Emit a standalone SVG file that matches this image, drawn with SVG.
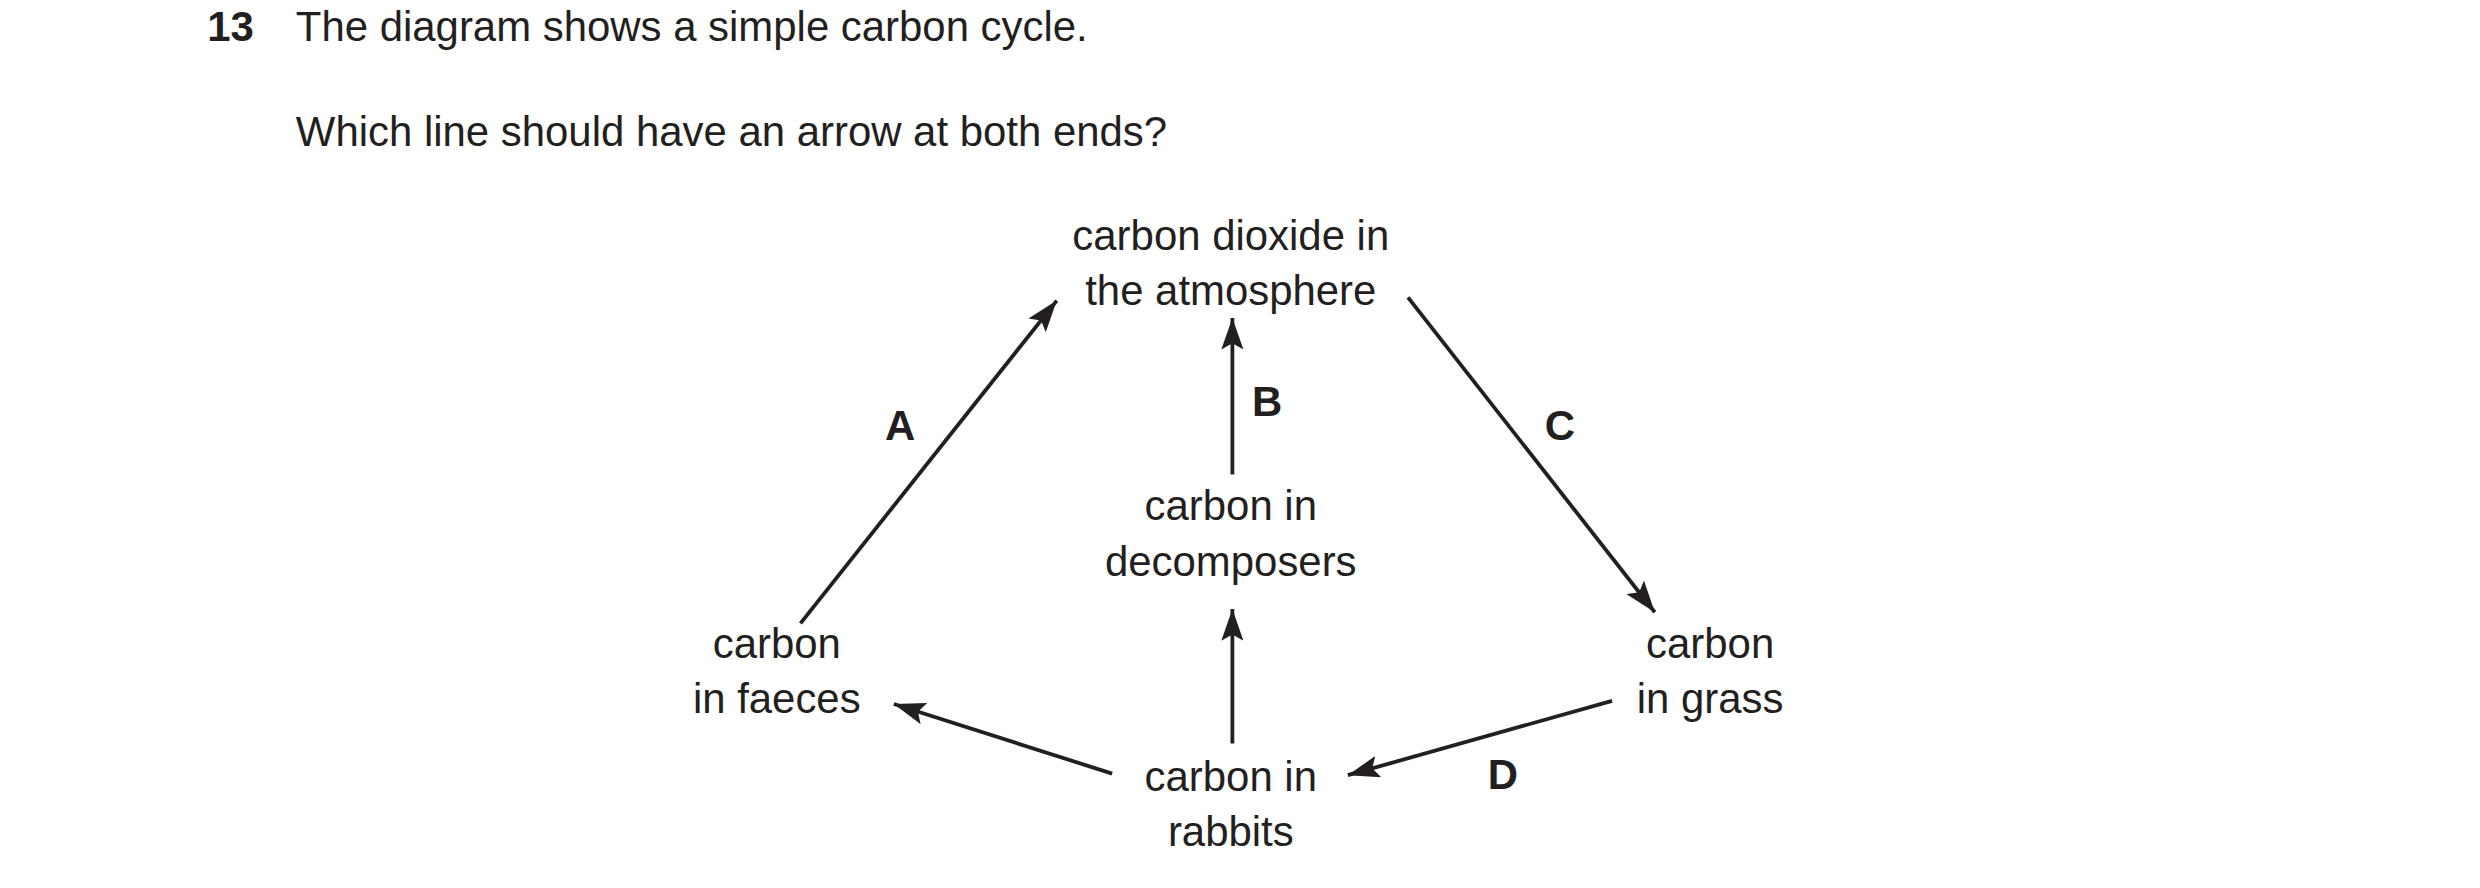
<svg xmlns="http://www.w3.org/2000/svg" width="2480" height="888" viewBox="0 0 2480 888">
<defs>
<marker id="ah" viewBox="0 0 20 14" refX="20" refY="7" markerWidth="20" markerHeight="14" markerUnits="userSpaceOnUse" orient="auto"><path d="M0,0 L20,7 L0,14 L4,7 Z" fill="#231f20"/></marker>
<style>
text{font-family:"Liberation Sans",Arial,sans-serif;font-size:26.5px;fill:#231f20}
.c{text-anchor:middle}
.b{font-weight:bold}
line{stroke:#231f20;stroke-width:2.4;marker-end:url(#ah)}
</style>
</defs>
<rect width="2480" height="888" fill="#fff"/>
<g transform="scale(1.582)">
<g id="question">
<text x="131" y="26" class="b">13</text>
<text x="187" y="26">The diagram shows a simple carbon cycle.</text>
<text x="187" y="92">Which line should have an arrow at both ends?</text>
</g>
<g id="atmosphere"><text class="c" x="778" y="158">carbon dioxide in</text><text class="c" x="778" y="193">the atmosphere</text></g>
<g id="decomposers"><text class="c" x="778" y="329">carbon in</text><text class="c" x="778" y="364">decomposers</text></g>
<g id="faeces"><text class="c" x="491" y="416">carbon</text><text class="c" x="491" y="451">in faeces</text></g>
<g id="grass"><text class="c" x="1081" y="416">carbon</text><text class="c" x="1081" y="451">in grass</text></g>
<g id="rabbits"><text class="c" x="778" y="500">carbon in</text><text class="c" x="778" y="535">rabbits</text></g>
<g id="connectors">
<line x1="506" y1="394" x2="668" y2="190"/>
<line x1="779" y1="300" x2="779" y2="201"/>
<line x1="890" y1="188" x2="1046" y2="387"/>
<line x1="1019" y1="443" x2="852" y2="490"/>
<line x1="703" y1="489" x2="565" y2="445"/>
<line x1="779" y1="470" x2="779" y2="385"/>
</g>
<g id="labels">
<text class="c b" x="569" y="278">A</text>
<text class="c b" x="801" y="263">B</text>
<text class="c b" x="986" y="278">C</text>
<text class="c b" x="950" y="499">D</text>
</g>
</g>
</svg>
